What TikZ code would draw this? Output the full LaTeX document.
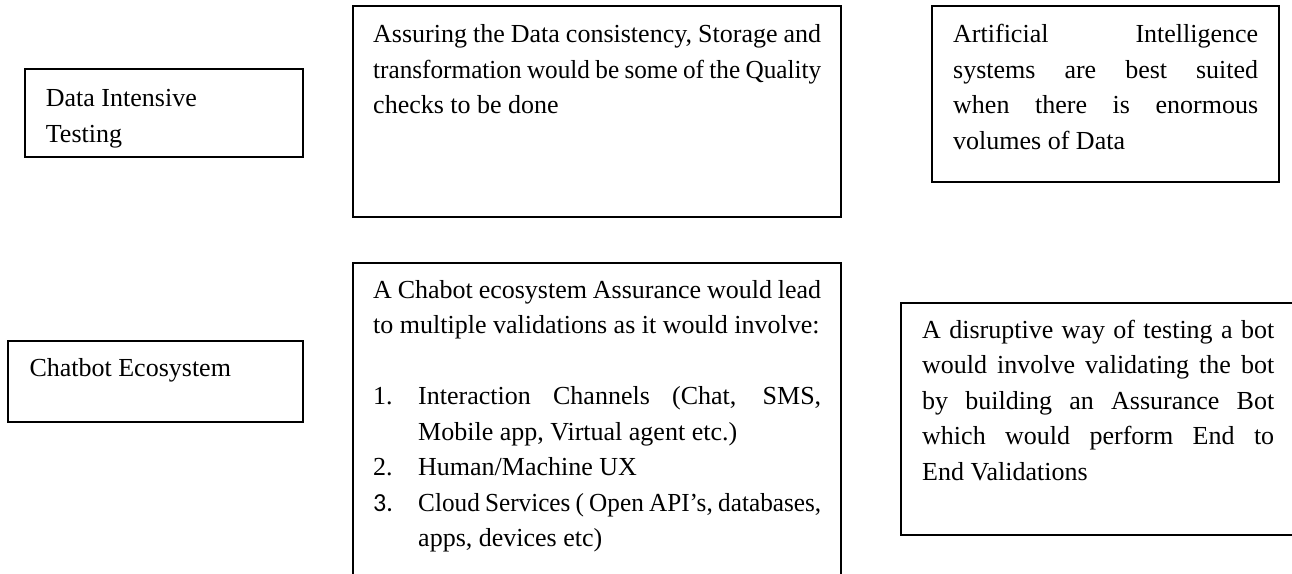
\documentclass[tikz,border=0pt]{standalone}
\usepackage{fontspec}
\setmainfont{Liberation Serif}
\newfontfamily\narrowser{Liberation Serif}[FakeStretch=0.97]
\newfontfamily\calib{Carlito}
\newcommand\JL[2]{\hbox to #1{\spaceskip=.25em plus 3em minus .1em\xspaceskip=\spaceskip #2}}
\newcommand\JN[2]{\hbox to #1{\narrowser\spaceskip=.25em plus 3em minus .1em\xspaceskip=\spaceskip #2}}
\newcommand\LL[1]{\hbox{#1}}
\newcommand\NUM[1]{\hbox to 45pt{#1\hfil}}
\begin{document}
\begin{tikzpicture}[x=1pt,y=-1pt,
  box/.style={draw=black, line width=1.6pt},
  txt/.style={inner sep=0pt, anchor=base west, font=\fontsize{26}{35.5}\selectfont}]
\useasboundingbox (0,0) rectangle (1292,573);
\fill[white] (0,0) rectangle (1292,573);
\clip (0,0) rectangle (1292,573);
% boxes
\draw[box] (25,69) rectangle (303,157);
\draw[box] (353,6) rectangle (841,217);
\draw[box] (932,6) rectangle (1279,182);
\draw[box] (8,341) rectangle (303,422);
\draw[box] (353,263) rectangle (841,600);
\draw[box] (901,303) rectangle (1310,535);
% texts
\node[txt] (dit) at (45.7,106.5) {\vtop{\LL{Data Intensive}\LL{Testing}}};
\node[txt] (ass) at (373,42.5) {\vtop{%
  \JL{448pt}{Assuring the Data consistency, Storage and}
  \JN{448pt}{transformation would be some of the Quality}
  \LL{checks to be done}}};
\node[txt] (ai) at (953,42.5) {\vtop{%
  \JL{305pt}{Artificial Intelligence}
  \JL{305pt}{systems are best suited}
  \JL{305pt}{when there is enormous}
  \LL{volumes of Data}}};
\node[txt] (ce) at (29.3,376) {Chatbot Ecosystem};
\node[txt] (cha) at (373,298) {\vtop{%
  \JL{448pt}{A Chabot ecosystem Assurance would lead}
  \LL{to multiple validations as it would involve:}
  \LL{}
  \JL{448pt}{\NUM{1.}Interaction Channels (Chat, SMS,}
  \LL{\hspace*{45pt}Mobile app, Virtual agent etc.)}
  \LL{\NUM{2.}Human/Machine UX}
  \JN{448pt}{\NUM{{\calib 3.}}Cloud Services ( Open API’s, databases,}
  \LL{\hspace*{45pt}apps, devices etc)}}};
\node[txt] (dis) at (922,338) {\vtop{%
  \JL{352pt}{A disruptive way of testing a bot}
  \JL{352pt}{would involve validating the bot}
  \JL{352pt}{by building an Assurance Bot}
  \JL{352pt}{which would perform End to}
  \LL{End Validations}}};
\end{tikzpicture}
\end{document}
